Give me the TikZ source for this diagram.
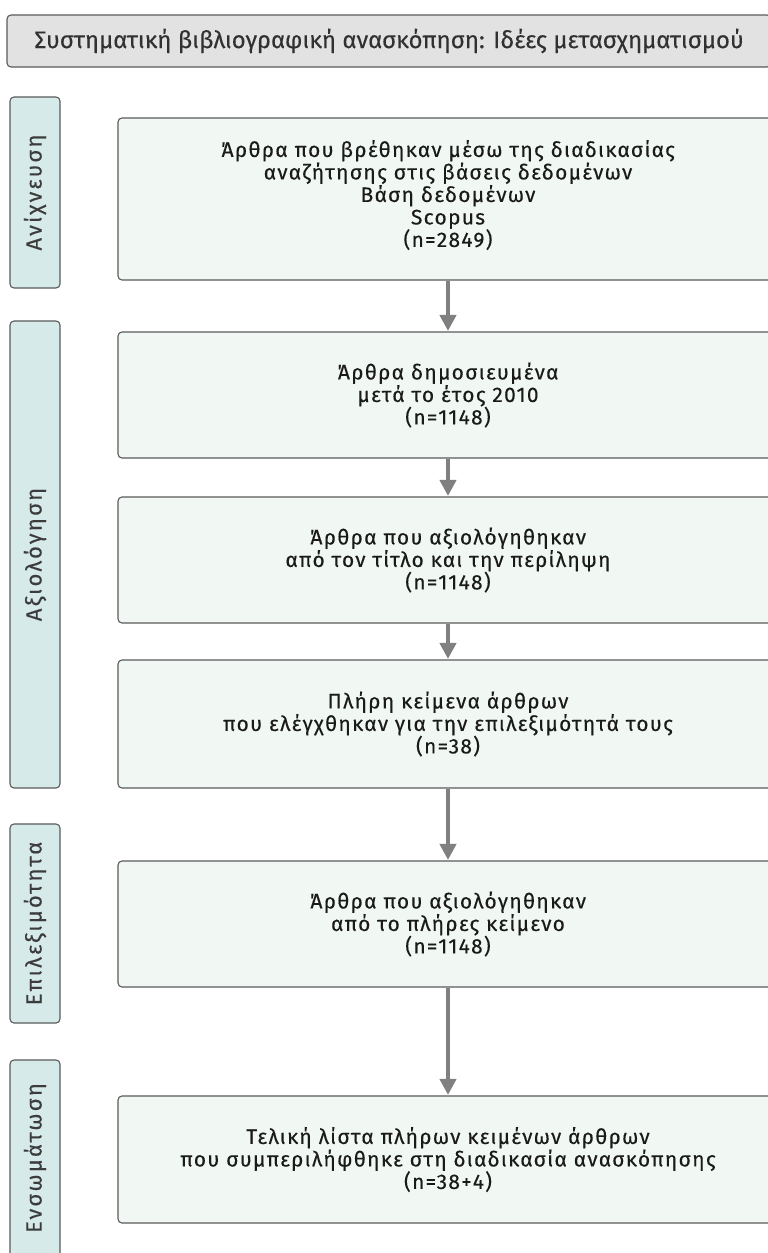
\documentclass[tikz,border=0pt]{standalone}
\usepackage{fontspec}
\setmainfont{Fira Sans}[FakeBold=0.25]
\newfontfamily\boxfont{Fira Sans}[FakeBold=0.25, LetterSpace=6]
\newfontfamily\stagefont{Fira Sans}[FakeBold=0.25, LetterSpace=10]
\usetikzlibrary{arrows.meta}
\definecolor{boxfill}{HTML}{F1F8F3}
\definecolor{stagefill}{HTML}{D7EAEA}
\definecolor{titlefill}{HTML}{E2E2E2}
\definecolor{edge}{HTML}{5A5A5A}
\definecolor{ink}{HTML}{1A1A1A}
\definecolor{flow}{HTML}{808080}
\tikzset{
  x=1pt, y=-1pt,
  titlebox/.style={draw=edge, line width=1.1pt, fill=titlefill, rounded corners=4pt,
    minimum width=764pt, minimum height=52pt, inner sep=0pt, text=ink!90,
    font=\fontsize{24}{27}\selectfont},
  stagebox/.style={draw=edge, line width=1.1pt, fill=stagefill, rounded corners=4pt,
    minimum width=50pt, inner sep=0pt},
  stagelabel/.style={rotate=90, text=ink!85, font=\stagefont\fontsize{22}{24}\selectfont, inner sep=0pt},
  flowtext/.style={align=center, text=ink, font=\boxfont\fontsize{21}{22.5}\selectfont},
  flowbox/.style={draw=edge, line width=1.1pt, fill=boxfill, rounded corners=4pt,
    minimum width=660pt, inner sep=0pt, flowtext},
  flowarrow/.style={draw=flow, line width=4pt, -{Triangle[length=16pt,width=16pt]}, shorten >=0.5pt}
}
\begin{document}
\begin{tikzpicture}
\useasboundingbox (0,0) rectangle (768,1253);
\fill[white] (0,0) rectangle (768,1253);

% heading
\node[titlebox] (title) at (389,41) {Συστηματική βιβλιογραφική ανασκόπηση: Ιδέες μετασχηματισμού};

% stage boxes on the left
\node[stagebox, minimum height=191pt] (s1) at (35,192.5) {};
\node[stagelabel] (s1t) at (s1.center) {Ανίχνευση};
\node[stagebox, minimum height=467pt] (s2) at (35,554.5) {};
\node[stagelabel] (s2t) at (s2.center) {Αξιολόγηση};
\node[stagebox, minimum height=199pt] (s3) at (35,923.5) {};
\node[stagelabel] (s3t) at (s3.center) {Επιλεξιμότητα};
\node[stagebox, minimum height=230pt] (s4) at (35,1175) {};
\node[stagelabel] (s4t) at (35,1158) {Ενσωμάτωση};

% flow boxes
\node[flowbox, minimum height=162pt] (b1) at (448,199) {};
\node[flowtext, inner sep=0pt] (b1t) at (448,195)
  {Άρθρα που βρέθηκαν μέσω της διαδικασίας\\αναζήτησης στις βάσεις δεδομένων\\Βάση δεδομένων\\Scopus\\(n=2849)};
\node[flowbox, minimum height=126pt] (b2) at (448,395)
  {Άρθρα δημοσιευμένα\\ μετά το έτος 2010\\(n=1148)};
\node[flowbox, minimum height=126pt] (b3) at (448,560)
  {Άρθρα που αξιολόγηθηκαν\\από τον τίτλο και την περίληψη\\(n=1148)};
\node[flowbox, minimum height=128pt] (b4) at (448,724)
  {Πλήρη κείμενα άρθρων\\που ελέγχθηκαν για την επιλεξιμότητά τους\\(n=38)};
\node[flowbox, minimum height=126pt] (b5) at (448,924)
  {Άρθρα που αξιολόγηθηκαν\\από το πλήρες κείμενο\\(n=1148)};
\node[flowbox, minimum height=127pt] (b6) at (448,1159.5)
  {Τελική λίστα πλήρων κειμένων άρθρων\\που συμπεριλήφθηκε στη διαδικασία ανασκόπησης\\(n=38+4)};

% connectors
\draw[flowarrow] (b1.south) -- (b2.north);
\draw[flowarrow] (b2.south) -- (b3.north);
\draw[flowarrow] (b3.south) -- (b4.north);
\draw[flowarrow] (b4.south) -- (b5.north);
\draw[flowarrow] (b5.south) -- (b6.north);
\end{tikzpicture}
\end{document}
